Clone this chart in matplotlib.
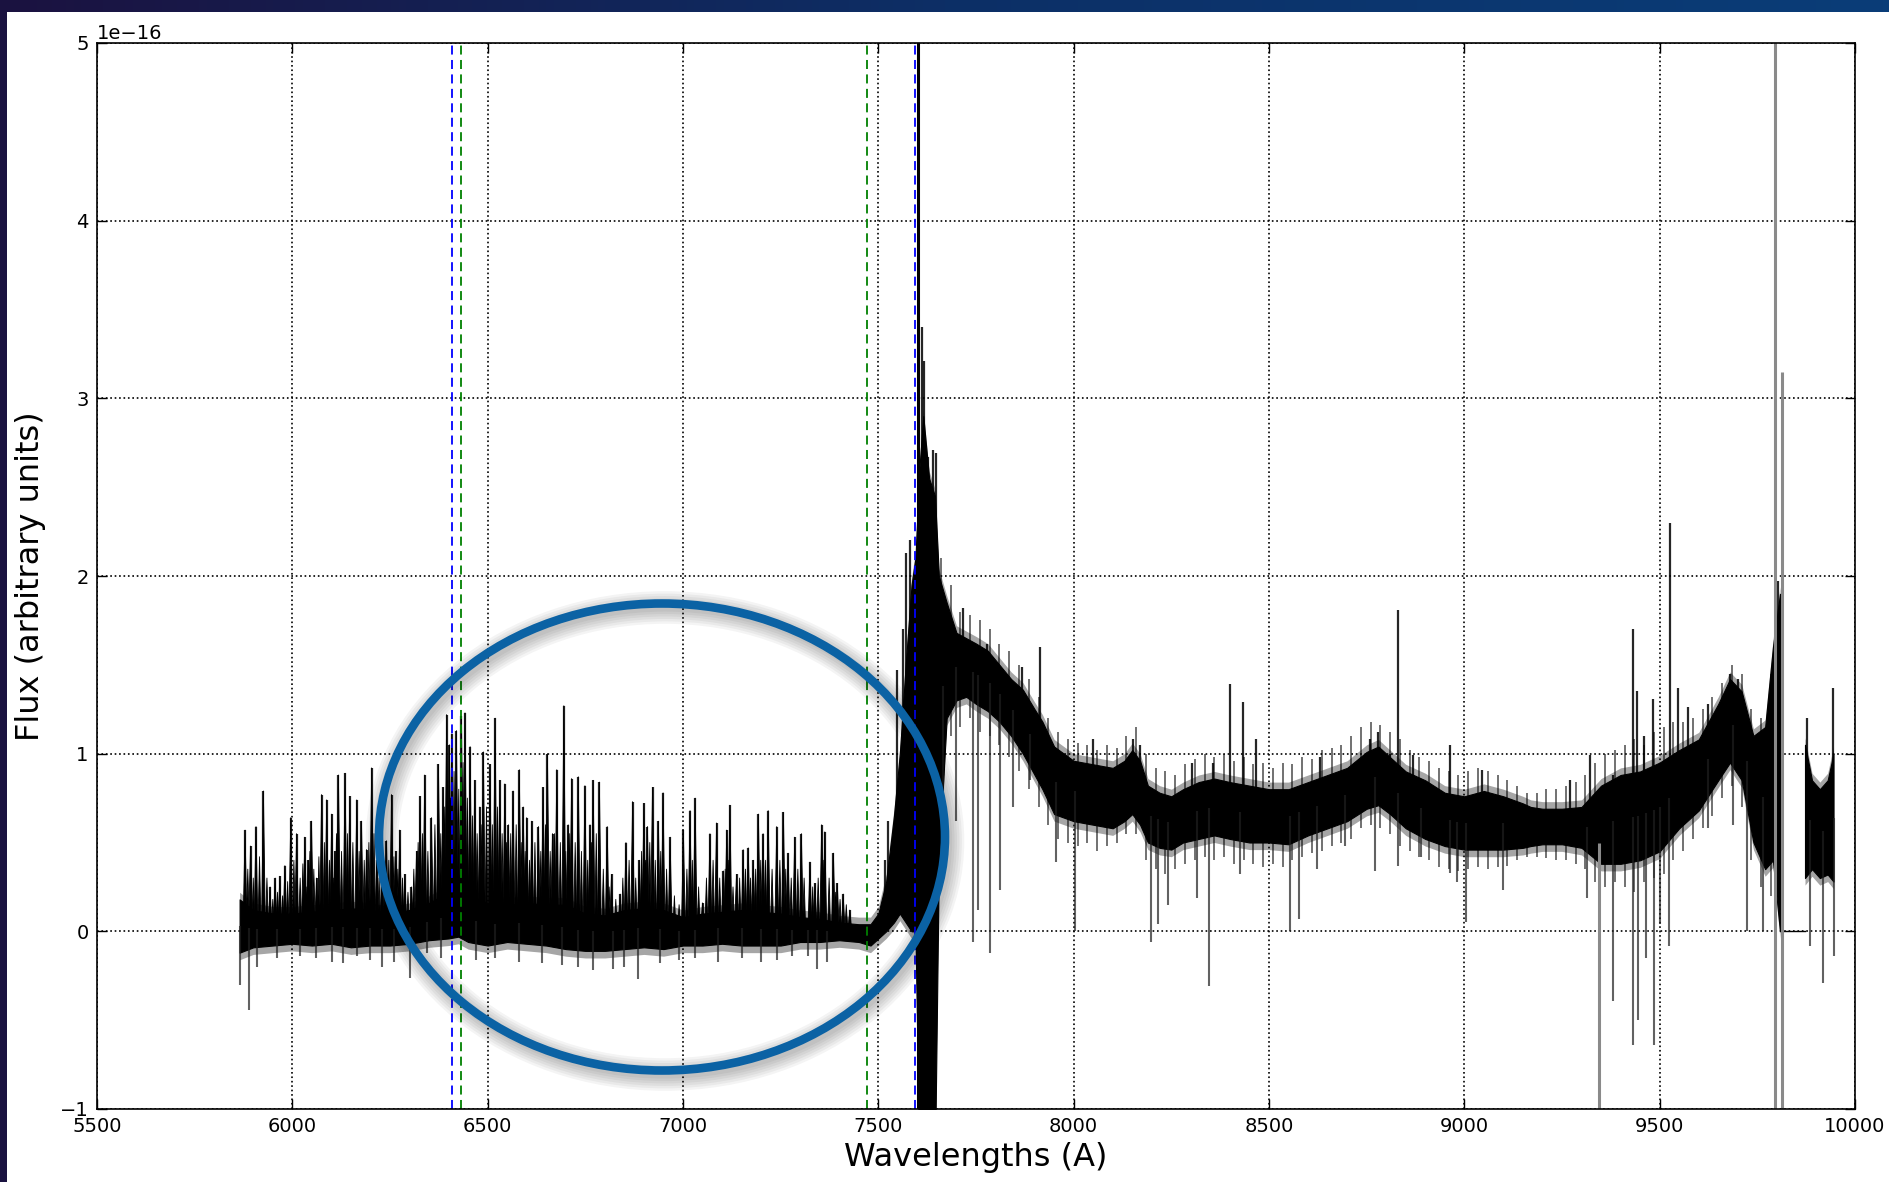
import matplotlib
matplotlib.use("Agg")
import matplotlib.pyplot as plt
import numpy as np
from matplotlib.collections import PolyCollection
from matplotlib.colors import LinearSegmentedColormap
from matplotlib.patches import Ellipse, Rectangle

SCALE = 1e-16

# Continuum band of the spectrum (lower / upper edge of the dense trace), units of 1e-16
band_wl = [5865, 5900, 5950, 6000, 6050, 6100, 6150, 6200, 6250, 6300, 6350, 6400, 6425, 6450,
           6500, 6550, 6600, 6650, 6700, 6750, 6800, 6850, 6900, 6950, 7000, 7050, 7100, 7150,
           7200, 7250, 7300, 7350, 7400, 7450, 7480, 7500, 7520, 7540, 7555, 7570, 7585, 7595,
           7605, 7615, 7630, 7645, 7655, 7675, 7700, 7725, 7750, 7780, 7810, 7840, 7870, 7900,
           7920, 7950, 8000, 8050, 8100, 8130, 8150, 8170, 8190, 8220, 8250, 8280, 8320, 8360,
           8400, 8450, 8500, 8550, 8600, 8650, 8700, 8750, 8780, 8810, 8850, 8900, 8950, 9000,
           9050, 9100, 9150, 9170, 9200, 9250, 9300, 9350, 9400, 9450, 9500, 9550, 9600, 9650,
           9680, 9710, 9740, 9770, 9790, 9808]
band_lo = [-0.12, -0.09, -0.08, -0.07, -0.08, -0.07, -0.09, -0.08, -0.08, -0.07, -0.05, -0.04, -0.03, -0.06,
           -0.08, -0.06, -0.07, -0.08, -0.10, -0.11, -0.11, -0.10, -0.09, -0.10, -0.08, -0.08, -0.07, -0.08,
           -0.08, -0.08, -0.06, -0.06, -0.05, -0.06, -0.08, -0.04, 0.00, 0.05, 0.10, 0.05, 0.00, 0.00,
           -1.30, -1.30, -1.30, -1.30, 0.40, 1.20, 1.30, 1.32, 1.28, 1.24, 1.18, 1.10, 1.00, 0.88,
           0.80, 0.66, 0.62, 0.60, 0.58, 0.62, 0.66, 0.60, 0.50, 0.47, 0.46, 0.50, 0.52, 0.54,
           0.52, 0.50, 0.50, 0.49, 0.54, 0.58, 0.62, 0.69, 0.71, 0.66, 0.58, 0.52, 0.48, 0.46,
           0.46, 0.46, 0.47, 0.48, 0.49, 0.49, 0.47, 0.38, 0.38, 0.40, 0.45, 0.58, 0.68, 0.85,
           0.95, 0.85, 0.50, 0.35, 0.40, 0.00]
band_hi = [0.18, 0.12, 0.10, 0.10, 0.11, 0.12, 0.13, 0.12, 0.10, 0.12, 0.16, 0.22, 0.28, 0.20,
           0.16, 0.15, 0.16, 0.15, 0.15, 0.10, 0.09, 0.12, 0.13, 0.12, 0.08, 0.10, 0.11, 0.12,
           0.11, 0.10, 0.08, 0.07, 0.05, 0.04, 0.04, 0.10, 0.28, 0.65, 1.00, 1.50, 1.95, 2.10,
           2.60, 2.90, 2.55, 2.45, 2.00, 1.85, 1.68, 1.65, 1.62, 1.58, 1.50, 1.42, 1.36, 1.25,
           1.18, 1.04, 0.96, 0.94, 0.92, 0.96, 1.02, 0.96, 0.82, 0.78, 0.76, 0.80, 0.84, 0.86,
           0.84, 0.82, 0.80, 0.80, 0.84, 0.88, 0.92, 1.01, 1.04, 0.98, 0.90, 0.85, 0.78, 0.76,
           0.79, 0.76, 0.72, 0.70, 0.69, 0.69, 0.70, 0.82, 0.88, 0.90, 0.95, 1.02, 1.08, 1.28,
           1.42, 1.35, 1.10, 1.15, 1.60, 1.90]

# Ragged edge of the trace on the red side (noise reaching past the dense core)
fringe_wl = [7660, 7685, 7710, 7735, 7760, 7785, 7810, 7835, 7860, 7885, 7910, 7935, 7960, 7985,
             8010, 8035, 8060, 8085, 8110, 8135, 8160, 8185, 8210, 8235, 8260, 8285, 8310, 8335,
             8360, 8385, 8410, 8435, 8460, 8485, 8510, 8535, 8560, 8585, 8610, 8635, 8660, 8685,
             8710, 8735, 8760, 8785, 8810, 8835, 8860, 8885, 8910, 8935, 8960, 8985, 9010, 9035,
             9060, 9085, 9110, 9135, 9160, 9185, 9210, 9235, 9260, 9285, 9310, 9335, 9360, 9385,
             9410, 9435, 9460, 9485, 9510, 9535, 9560, 9585, 9610, 9635, 9660, 9685, 9710, 9735,
             9760, 9785]
fringe_top = [2.10, 1.95, 1.80, 1.78, 1.75, 1.70, 1.62, 1.58, 1.50, 1.42, 1.32, 1.20, 1.12, 1.08,
              1.06, 1.05, 1.02, 1.05, 1.03, 1.10, 1.15, 1.00, 0.92, 0.90, 0.88, 0.94, 0.97, 1.00,
              0.98, 1.00, 0.96, 0.98, 0.94, 0.95, 0.92, 0.95, 0.94, 0.98, 0.97, 1.02, 1.03, 1.05,
              1.10, 1.15, 1.18, 1.16, 1.12, 1.08, 1.02, 0.98, 0.96, 0.92, 0.90, 0.88, 0.90, 0.92,
              0.90, 0.88, 0.85, 0.82, 0.78, 0.78, 0.80, 0.80, 0.82, 0.84, 0.88, 0.95, 1.00, 1.02,
              1.05, 1.08, 1.05, 1.12, 1.15, 1.18, 1.18, 1.20, 1.25, 1.32, 1.40, 1.50, 1.45, 1.25,
              1.20, 1.45]
fringe_bot = [0.30, 1.10, 1.15, 1.20, 1.12, 1.10, 1.05, 0.98, 0.90, 0.80, 0.70, 0.60, 0.52, 0.50,
              0.48, 0.50, 0.45, 0.48, 0.50, 0.55, 0.55, 0.40, 0.35, 0.32, 0.35, 0.38, 0.40, 0.42,
              0.40, 0.42, 0.38, 0.40, 0.38, 0.36, 0.38, 0.36, 0.40, 0.42, 0.44, 0.45, 0.48, 0.50,
              0.52, 0.58, 0.60, 0.58, 0.55, 0.48, 0.45, 0.42, 0.40, 0.36, 0.35, 0.34, 0.35, 0.36,
              0.35, 0.36, 0.37, 0.40, 0.42, 0.42, 0.41, 0.40, 0.40, 0.38, 0.35, 0.28, 0.25, 0.28,
              0.25, 0.22, 0.28, 0.30, 0.32, 0.40, 0.45, 0.52, 0.58, 0.65, 0.75, 0.82, 0.70, 0.40,
              0.25, 0.20]

# Last piece of the spectrum after the zero-filled gap
tail_wl = [9872, 9890, 9910, 9930, 9945]
tail_lo = [0.30, 0.35, 0.30, 0.32, 0.28]
tail_hi = [1.05, 0.85, 0.80, 0.85, 1.00]
gap_wl = [9810, 9872]
gap_flux = [0.0, 0.0]

# Emission-like spikes above the continuum
spike_wl = [5879, 5893, 5907, 5926, 5943, 5956, 5968, 5981, 5996, 6011, 6032, 6041, 6049, 6062,
            6075, 6088, 6101, 6109, 6118, 6135, 6147, 6165, 6177, 6190, 6203, 6216, 6229, 6241,
            6254, 6265, 6275, 6288, 6305, 6318, 6327, 6339, 6356, 6374, 6386, 6395, 6402, 6408,
            6420, 6433, 6442, 6455, 6467, 6480, 6489, 6506, 6519, 6531, 6544, 6553, 6565, 6581,
            6591, 6600, 6613, 6630, 6642, 6653, 6666, 6677, 6695, 6706, 6715, 6732, 6749, 6762,
            6770, 6786, 6806, 6817, 6839, 6854, 6871, 6888, 6900, 6909, 6922, 6937, 6949, 6967,
            7001, 7018, 7031, 7050, 7069, 7086, 7103, 7112, 7120, 7137, 7154, 7167, 7180, 7193,
            7205, 7218, 7240, 7257, 7269, 7286, 7303, 7325, 7338, 7355, 7363, 7385, 7395, 7410,
            7427, 7517, 7525, 7549, 7564, 7572, 7581, 7611, 7617, 7628, 7641, 7647, 7717, 7777,
            7867, 7913, 8050, 8152, 8170, 8302, 8357, 8400, 8434, 8468, 8630, 8758, 8779, 8809,
            8831, 8869, 8963, 9044, 9270, 9321, 9381, 9432, 9443, 9459, 9482, 9526, 9547, 9573,
            9624, 9680, 9701, 9803, 9876, 9944]
spike_top = [0.57, 0.48, 0.59, 0.79, 0.25, 0.30, 0.31, 0.37, 0.64, 0.55, 0.53, 0.40, 0.62, 0.30,
             0.77, 0.74, 0.66, 0.45, 0.88, 0.89, 0.76, 0.74, 0.62, 0.46, 0.92, 0.40, 0.35, 0.51,
             0.77, 0.45, 0.57, 0.32, 0.25, 0.45, 0.76, 0.88, 0.64, 0.94, 0.81, 1.22, 1.05, 1.11,
             1.13, 1.21, 1.23, 1.04, 0.85, 0.70, 1.01, 0.94, 1.20, 0.85, 0.83, 0.60, 0.79, 0.91,
             0.70, 0.64, 0.62, 0.59, 0.81, 1.00, 0.55, 0.91, 1.27, 0.60, 0.86, 0.87, 0.82, 0.60,
             0.85, 0.84, 0.59, 0.32, 0.21, 0.50, 0.73, 0.40, 0.72, 0.59, 0.81, 0.62, 0.78, 0.53,
             0.57, 0.68, 0.75, 0.16, 0.55, 0.61, 0.34, 0.57, 0.71, 0.32, 0.46, 0.47, 0.40, 0.66,
             0.55, 0.68, 0.59, 0.67, 0.44, 0.53, 0.55, 0.39, 0.27, 0.60, 0.56, 0.44, 0.27, 0.21,
             0.12, 0.40, 0.62, 1.47, 1.70, 2.13, 2.20, 3.40, 3.21, 2.67, 2.71, 2.69, 1.82, 1.62,
             1.49, 1.60, 1.08, 1.08, 1.05, 0.95, 0.95, 1.39, 1.29, 1.08, 0.98, 1.08, 1.12, 1.00,
             1.81, 0.99, 1.05, 0.91, 0.85, 0.99, 0.88, 1.70, 1.35, 1.10, 1.31, 2.30, 1.37, 1.26,
             1.28, 1.45, 1.42, 1.97, 1.20, 1.37]

# Lower peaks filling the noisy blue half of the spectrum
minor_wl = [5886, 5900, 5916, 5935, 5950, 5962, 5975, 5988, 6004, 6020, 6027, 6037, 6045, 6055,
            6068, 6082, 6095, 6105, 6113, 6126, 6141, 6155, 6171, 6184, 6196, 6209, 6222, 6235,
            6247, 6260, 6270, 6282, 6296, 6311, 6322, 6333, 6347, 6365, 6380, 6390, 6398, 6405,
            6414, 6426, 6437, 6448, 6461, 6473, 6485, 6497, 6512, 6525, 6537, 6548, 6559, 6573,
            6586, 6596, 6607, 6621, 6636, 6648, 6660, 6671, 6686, 6700, 6710, 6724, 6740, 6756,
            6766, 6778, 6796, 6811, 6828, 6846, 6862, 6879, 6894, 6904, 6915, 6929, 6943, 6958,
            6978, 6990, 7010, 7024, 7040, 7060, 7077, 7094, 7108, 7116, 7128, 7145, 7160, 7173,
            7186, 7199, 7211, 7228, 7248, 7263, 7277, 7294, 7310, 7332, 7346, 7359, 7374, 7390,
            7402, 7418]
minor_top = [0.35, 0.30, 0.42, 0.30, 0.18, 0.22, 0.20, 0.28, 0.40, 0.30, 0.38, 0.25, 0.45, 0.35,
             0.42, 0.50, 0.40, 0.30, 0.55, 0.45, 0.55, 0.50, 0.45, 0.40, 0.50, 0.55, 0.30, 0.28,
             0.40, 0.42, 0.35, 0.30, 0.22, 0.35, 0.50, 0.55, 0.45, 0.60, 0.55, 0.70, 0.85, 0.75,
             0.90, 0.80, 0.95, 0.75, 0.65, 0.55, 0.60, 0.70, 0.60, 0.70, 0.55, 0.50, 0.55, 0.60,
             0.50, 0.45, 0.40, 0.50, 0.45, 0.60, 0.45, 0.55, 0.50, 0.45, 0.55, 0.50, 0.45, 0.40,
             0.50, 0.55, 0.35, 0.25, 0.18, 0.30, 0.40, 0.30, 0.45, 0.40, 0.50, 0.40, 0.45, 0.35,
             0.20, 0.15, 0.35, 0.40, 0.25, 0.30, 0.40, 0.30, 0.35, 0.40, 0.25, 0.30, 0.35, 0.30,
             0.35, 0.40, 0.40, 0.35, 0.40, 0.35, 0.30, 0.35, 0.30, 0.25, 0.30, 0.40, 0.30, 0.22,
             0.18, 0.15]

# Absorption-like dips below the continuum
dip_wl = [5866, 5890, 5910, 5960, 6020, 6060, 6101, 6130, 6165, 6200, 6230, 6260, 6301, 6344,
          6380, 6470, 6520, 6580, 6640, 6689, 6730, 6770, 6820, 6850, 6885, 6940, 6990, 7030,
          7090, 7150, 7200, 7240, 7280, 7319, 7342, 7368, 7666, 7700, 7743, 7756, 7786, 7811,
          7845, 7888, 7956, 8003, 8199, 8216, 8242, 8315, 8347, 8425, 8553, 8577, 8622, 8694,
          8771, 8831, 8890, 8963, 8980, 9005, 9100, 9313, 9381, 9432, 9445, 9466, 9485, 9500,
          9524, 9624, 9688, 9724, 9765, 9884, 9918, 9946]
dip_bottom = [-0.30, -0.44, -0.20, -0.15, -0.14, -0.15, -0.17, -0.18, -0.14, -0.16, -0.20, -0.17, -0.26, -0.12,
              -0.15, -0.16, -0.15, -0.17, -0.18, -0.19, -0.20, -0.22, -0.21, -0.20, -0.27, -0.18, -0.16, -0.15,
              -0.17, -0.15, -0.17, -0.16, -0.14, -0.14, -0.21, -0.17, 0.43, 0.62, -0.06, 0.12, -0.12, 0.23,
              0.70, 0.85, 0.39, 0.00, -0.06, 0.04, 0.15, 0.19, -0.31, 0.32, 0.00, 0.07, 0.35, 0.48,
              0.34, 0.37, 0.42, 0.33, 0.28, 0.05, 0.23, 0.19, -0.39, -0.64, -0.50, -0.15, -0.64, 0.04,
              -0.08, 0.58, 0.60, 0.00, 0.00, -0.08, -0.29, -0.14]

# Features running off the plotted range
long_wl = [7602, 9345, 9795, 9812]
long_lo = [-1.3, -1.3, -1.3, -1.3]
long_hi = [5.3, 0.50, 5.3, 3.15]
long_col = ["black", "#8a8a8a", "#8a8a8a", "#8a8a8a"]

# Line markers
blue_lines = [6408, 7595]
green_lines = [6431, 7472]

x_ticks = [5500, 6000, 6500, 7000, 7500, 8000, 8500, 9000, 9500, 10000]
y_ticks = [-1, 0, 1, 2, 3, 4, 5]

W, H = 1890, 1182


def peak_polys(wl, base, top, half):
    """Narrow triangles, base -> top -> base, for the crowded noisy peaks."""
    return [[(w - half, b * SCALE), (w, t * SCALE), (w + half, b * SCALE)]
            for w, b, t in zip(wl, base, top)]


def main() -> None:
    fig = plt.figure(figsize=(W / 100, H / 100), dpi=100)
    fig.patch.set_facecolor("white")
    ax = fig.add_axes([97 / W, 1 - 1109 / H, (1855 - 97) / W, (1109 - 43) / H])

    a = np.array
    lo, hi = a(band_lo), a(band_hi)
    tlo, thi = a(tail_lo), a(tail_hi)

    # ragged fringe + dense core of the trace
    ax.vlines(fringe_wl, a(fringe_bot) * SCALE, a(fringe_top) * SCALE, color="black", lw=1.3, alpha=0.6)
    ax.fill_between(band_wl, (lo - 0.04) * SCALE, (hi + 0.04) * SCALE, color="black", lw=0, alpha=0.35)
    ax.fill_between(tail_wl, (tlo - 0.04) * SCALE, (thi + 0.04) * SCALE, color="black", lw=0, alpha=0.35)
    ax.fill_between(band_wl, lo * SCALE, hi * SCALE, color="black", lw=0.8)
    ax.fill_between(tail_wl, tlo * SCALE, thi * SCALE, color="black", lw=0.8)
    ax.plot(gap_wl, a(gap_flux) * SCALE, color="black", lw=1.0)

    all_wl = np.concatenate([band_wl, tail_wl])
    all_mid = np.clip(np.concatenate([(lo + hi) / 2, (tlo + thi) / 2]), 0.0, None)

    spike_base = np.interp(spike_wl, all_wl, all_mid)
    minor_base = np.interp(minor_wl, all_wl, all_mid)
    dip_base = np.interp(dip_wl, all_wl, all_mid)

    # crowded blue side: triangles give the clustered look of the noisy peaks
    blue = a(spike_wl) < 7500
    ax.add_collection(PolyCollection(
        peak_polys(a(minor_wl), minor_base, a(minor_top), 4.0),
        facecolors="black", edgecolors="black", linewidths=0.6))
    ax.add_collection(PolyCollection(
        peak_polys(a(spike_wl)[blue], spike_base[blue], a(spike_top)[blue], 5.0),
        facecolors="black", edgecolors="black", linewidths=0.6))
    ax.vlines(spike_wl, spike_base * SCALE, a(spike_top) * SCALE, color="black", lw=1.6, alpha=0.85)
    ax.vlines(dip_wl, a(dip_bottom) * SCALE, dip_base * SCALE, color="#202020", lw=1.5, alpha=0.7)
    ax.vlines(long_wl, a(long_lo) * SCALE, a(long_hi) * SCALE, colors=long_col, lw=2.2)

    for w in blue_lines:
        ax.axvline(w, color="blue", ls="--", lw=1.3, dashes=(5, 3))
    for w in green_lines:
        ax.axvline(w, color="green", ls="--", lw=1.3, dashes=(5, 3))

    ax.set_xlim(5500, 10000)
    ax.set_ylim(-1 * SCALE, 5 * SCALE)
    ax.set_xticks(x_ticks)
    ax.set_yticks(a(y_ticks) * SCALE)
    ax.grid(True, color="black", ls=":", lw=1.2)
    ax.set_axisbelow(True)
    ax.tick_params(direction="in", top=True, right=True, length=7, width=1, labelsize=14, pad=6)
    ax.yaxis.get_offset_text().set_fontsize(14)
    for sp in ax.spines.values():
        sp.set_linewidth(1.2)

    ax.set_xlabel("Wavelengths (A)", fontsize=23, labelpad=4)
    ax.set_ylabel("Flux (arbitrary units)", fontsize=23, labelpad=10)

    # slide decorations: gradient title bar and dark left edge
    bar = fig.add_axes([0, 1 - 12 / H, 1, 12 / H])
    cmap = LinearSegmentedColormap.from_list("bar", ["#1b1240", "#0d2f66", "#0a3d78"])
    bar.imshow(np.linspace(0, 1, 256)[None, :], aspect="auto", cmap=cmap)
    bar.axis("off")
    fig.patches.append(Rectangle((0, 0), 7 / W, 1, transform=fig.transFigure,
                                 facecolor="#1a1240", edgecolor="none", zorder=5))

    # hand-drawn highlight ellipse with soft shadow
    cx, cy = 662 / W, 1 - 837 / H
    ew, eh = 566 / W, 467 / H
    for i in range(6):
        fig.patches.append(Ellipse((cx + 3 / W, cy - 4 / H), ew, eh, transform=fig.transFigure,
                                   fill=False, edgecolor="black", alpha=0.045,
                                   lw=6 + 3.5 * i, zorder=6))
    fig.patches.append(Ellipse((cx, cy), ew, eh, transform=fig.transFigure, fill=False,
                               edgecolor="#0b62a4", lw=6.2, zorder=7))

    fig.savefig("out.png", dpi=100)
    plt.close(fig)


if __name__ == "__main__":
    main()
